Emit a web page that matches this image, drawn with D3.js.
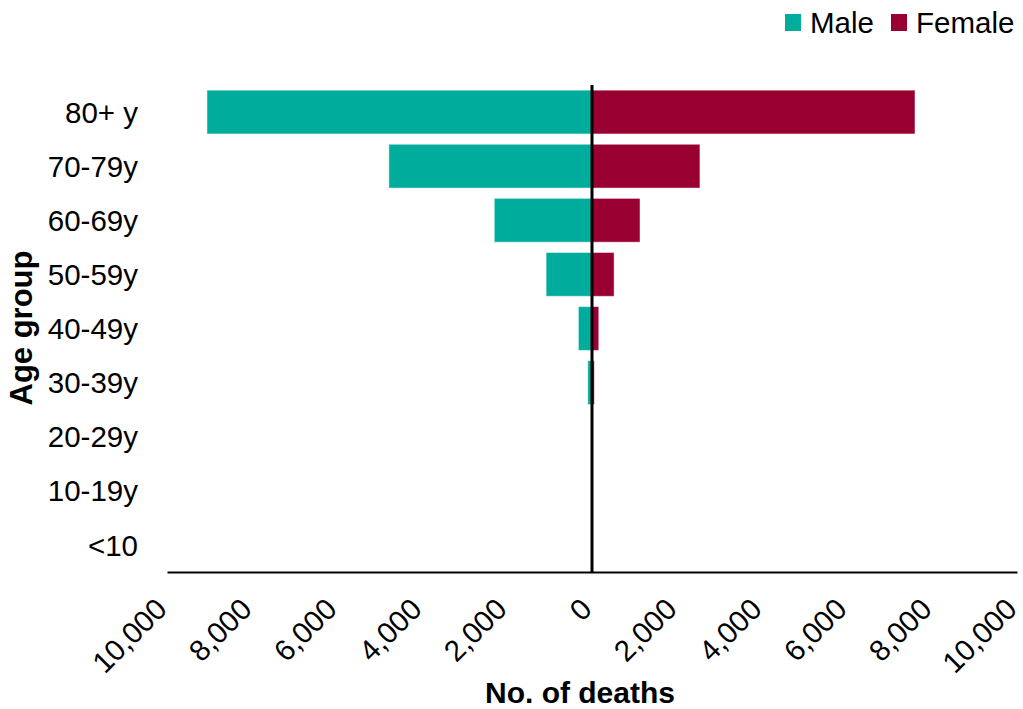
<!DOCTYPE html>
<html>
<head>
<meta charset="utf-8">
<script src="https://cdn.jsdelivr.net/npm/d3@7"></script>
<style>
  html, body { margin: 0; padding: 0; background: #fff; }
  svg { display: block; font-family: "Liberation Sans", Arial, sans-serif; }
</style>
</head>
<body>
<svg id="chart" width="1023" height="709"></svg>
<script>
const ageGroups = ["80+ y", "70-79y", "60-69y", "50-59y", "40-49y", "30-39y", "20-29y", "10-19y", "<10"];
const maleDeaths = [9060, 4780, 2300, 1080, 320, 100, 20, 3, 1];
const femaleDeaths = [7600, 2540, 1130, 520, 160, 55, 10, 2, 1];
const xTicks = [-10000, -8000, -6000, -4000, -2000, 0, 2000, 4000, 6000, 8000, 10000];
const seriesNames = ["Male", "Female"];
const seriesColors = ["#00AC9C", "#990031"];

const svg = d3.select("#chart");

const x = d3.scaleLinear().domain([-10000, 10000]).range([167, 1017]);
const y = d3.scaleBand().domain(ageGroups).range([85, 572]).paddingInner(0.19).paddingOuter(0.095);

const rows = ageGroups.map((g, i) => ({ g, male: maleDeaths[i], female: femaleDeaths[i] }));

// Male bars (left)
svg.append("g").selectAll("rect").data(rows).join("rect")
  .attr("x", d => x(-d.male))
  .attr("y", d => y(d.g))
  .attr("width", d => x(0) - x(-d.male))
  .attr("height", y.bandwidth())
  .attr("fill", seriesColors[0])
  .attr("stroke", "#fff").attr("stroke-opacity", 0.5).attr("stroke-width", 1);

// Female bars (right)
svg.append("g").selectAll("rect").data(rows).join("rect")
  .attr("x", x(0))
  .attr("y", d => y(d.g))
  .attr("width", d => x(d.female) - x(0))
  .attr("height", y.bandwidth())
  .attr("fill", seriesColors[1])
  .attr("stroke", "#fff").attr("stroke-opacity", 0.5).attr("stroke-width", 1);

// X axis
const xAxis = d3.axisBottom(x).tickValues(xTicks).tickSize(0).tickFormat(d => d3.format(",")(Math.abs(d)));
const xg = svg.append("g").attr("transform", "translate(0,572)").call(xAxis);
xg.select(".domain").attr("stroke", "#000").attr("stroke-width", 2);
xg.selectAll(".tick text")
  .attr("font-size", 29.5)
  .attr("font-family", "Liberation Sans, Arial, sans-serif")
  .attr("fill", "#000")
  .attr("text-anchor", "end")
  .attr("dy", null)
  .attr("y", 0)
  .attr("transform", "translate(1,39) rotate(-45)");

// Zero line
svg.append("line")
  .attr("x1", x(0)).attr("x2", x(0))
  .attr("y1", 85).attr("y2", 572)
  .attr("stroke", "#000").attr("stroke-width", 3);

// Y labels
svg.append("g").selectAll("text").data(ageGroups).join("text")
  .attr("x", 138)
  .attr("y", d => y(d) + y.bandwidth() / 2)
  .attr("dy", "0.36em")
  .attr("text-anchor", "end")
  .attr("font-size", 29.5)
  .attr("fill", "#000")
  .text(d => d);

// Axis titles
svg.append("text")
  .attr("x", 580).attr("y", 703)
  .attr("text-anchor", "middle")
  .attr("font-size", 30).attr("font-weight", "bold")
  .text("No. of deaths");

svg.append("text")
  .attr("transform", "translate(32,328) rotate(-90)")
  .attr("text-anchor", "middle")
  .attr("font-size", 31).attr("font-weight", "bold")
  .text("Age group");

// Legend
const legendX = [785, 891];
const lg = svg.append("g");
seriesNames.forEach((name, i) => {
  lg.append("rect").attr("x", legendX[i]).attr("y", 14).attr("width", 16).attr("height", 17).attr("fill", seriesColors[i]);
  lg.append("text").attr("x", legendX[i] + 25).attr("y", 33).attr("font-size", 29.5).attr("fill", "#000").text(name);
});
</script>
</body>
</html>
